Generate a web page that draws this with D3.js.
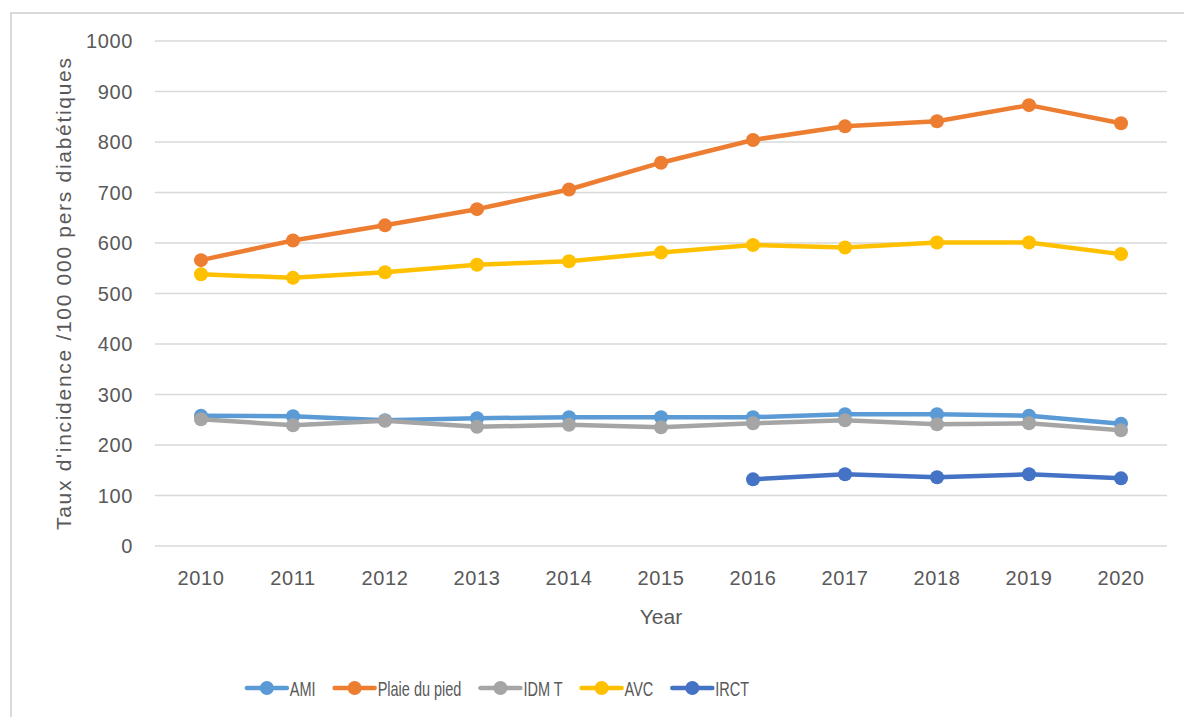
<!DOCTYPE html>
<html><head><meta charset="utf-8">
<script src="https://cdn.jsdelivr.net/npm/d3@7"></script>
<style>body{margin:0;background:#fff}svg{display:block}text{font-family:"Liberation Sans",Arial,sans-serif;fill:#595959}</style>
</head><body><svg id="c" width="1184" height="717"></svg>
<script>
const years = ["2010","2011","2012","2013","2014","2015","2016","2017","2018","2019","2020"];
const yTicks = [0,100,200,300,400,500,600,700,800,900,1000];
const seriesNames = ["AMI","Plaie du pied","IDM T","AVC","IRCT"];
const seriesColors = ["#5B9BD5","#ED7D31","#A5A5A5","#FFC000","#4472C4"];
const ami   = [258,257,249,253,255,255,255,261,261,258,242];
const plaie = [566,605,635,667,706,759,804,831,841,873,837];
const idm   = [251,239,248,236,240,235,243,249,241,243,229];
const avc   = [538,531,542,557,564,581,596,591,601,601,578];
const irct  = [null,null,null,null,null,null,132,142,136,142,134];
const seriesValues = [ami,plaie,idm,avc,irct];

const svg = d3.select("#c");
svg.append("rect").attr("x",11).attr("y",13).attr("width",1200).attr("height",720)
  .attr("fill","none").attr("stroke","#d9d9d9").attr("stroke-width",2);

const L=155,R=1167,T=41,B=546;
const x = d3.scaleBand().domain(years).range([L,R]);
const y = d3.scaleLinear().domain([0,1000]).range([B,T]);

svg.append("g").selectAll("line").data(yTicks).join("line")
  .attr("x1",L).attr("x2",R).attr("y1",d=>y(d)).attr("y2",d=>y(d))
  .attr("stroke","#d9d9d9").attr("stroke-width",1.3);

svg.append("g").selectAll("text").data(yTicks).join("text")
  .attr("x",133).attr("y",d=>y(d)).attr("dy","0.36em").attr("text-anchor","end")
  .attr("font-size",20).attr("letter-spacing",0.6).text(d=>d);

svg.append("g").selectAll("text").data(years).join("text")
  .attr("x",d=>x(d)+x.bandwidth()/2).attr("y",578).attr("dy","0.36em").attr("text-anchor","middle")
  .attr("font-size",20).attr("letter-spacing",0.6).text(d=>d);

svg.append("text").attr("x",661).attr("y",616).attr("dy","0.36em").attr("text-anchor","middle")
  .attr("font-size",21).text("Year");

svg.append("text").attr("transform","translate(63,294) rotate(-90)").attr("dy","0.36em")
  .attr("text-anchor","middle").attr("font-size",21)
  .attr("textLength",472).attr("lengthAdjust","spacing")
  .text("Taux d'incidence /100 000 pers diabétiques");

const cx = d=>x(d)+x.bandwidth()/2;
seriesValues.forEach((vals,i)=>{
  const pts = years.map((yr,j)=>({yr,v:vals[j]})).filter(p=>p.v!=null);
  const line = d3.line().x(p=>cx(p.yr)).y(p=>y(p.v));
  const g = svg.append("g");
  g.append("path").attr("d",line(pts)).attr("fill","none").attr("stroke",seriesColors[i])
    .attr("stroke-width",4.5).attr("stroke-linejoin","round").attr("stroke-linecap","round");
  g.selectAll("circle").data(pts).join("circle").attr("cx",p=>cx(p.yr)).attr("cy",p=>y(p.v))
    .attr("r",7).attr("fill",seriesColors[i]);
});

// legend laid out from measured text widths (condensed, Calibri-like), centred
const lg = svg.append("g");
const items = seriesNames.map((n,i)=>{
  const g = lg.append("g");
  g.append("line").attr("x1",0).attr("x2",40).attr("y1",0).attr("y2",0)
    .attr("stroke",seriesColors[i]).attr("stroke-width",4.5).attr("stroke-linecap","round");
  g.append("circle").attr("cx",20).attr("cy",0).attr("r",7).attr("fill",seriesColors[i]);
  const t = g.append("text").attr("x",43).attr("y",0).attr("dy","0.36em").attr("font-size",21).text(n);
  const w = t.node().getComputedTextLength()*0.69;
  t.attr("textLength",w).attr("lengthAdjust","spacingAndGlyphs");
  return {g, w: 43 + w};
});
const gap = 19;
const total = d3.sum(items,d=>d.w) + gap*(items.length-1);
let pos = 498 - total/2;
items.forEach(it=>{ it.g.attr("transform",`translate(${pos},688)`); pos += it.w + gap; });
</script></body></html>
